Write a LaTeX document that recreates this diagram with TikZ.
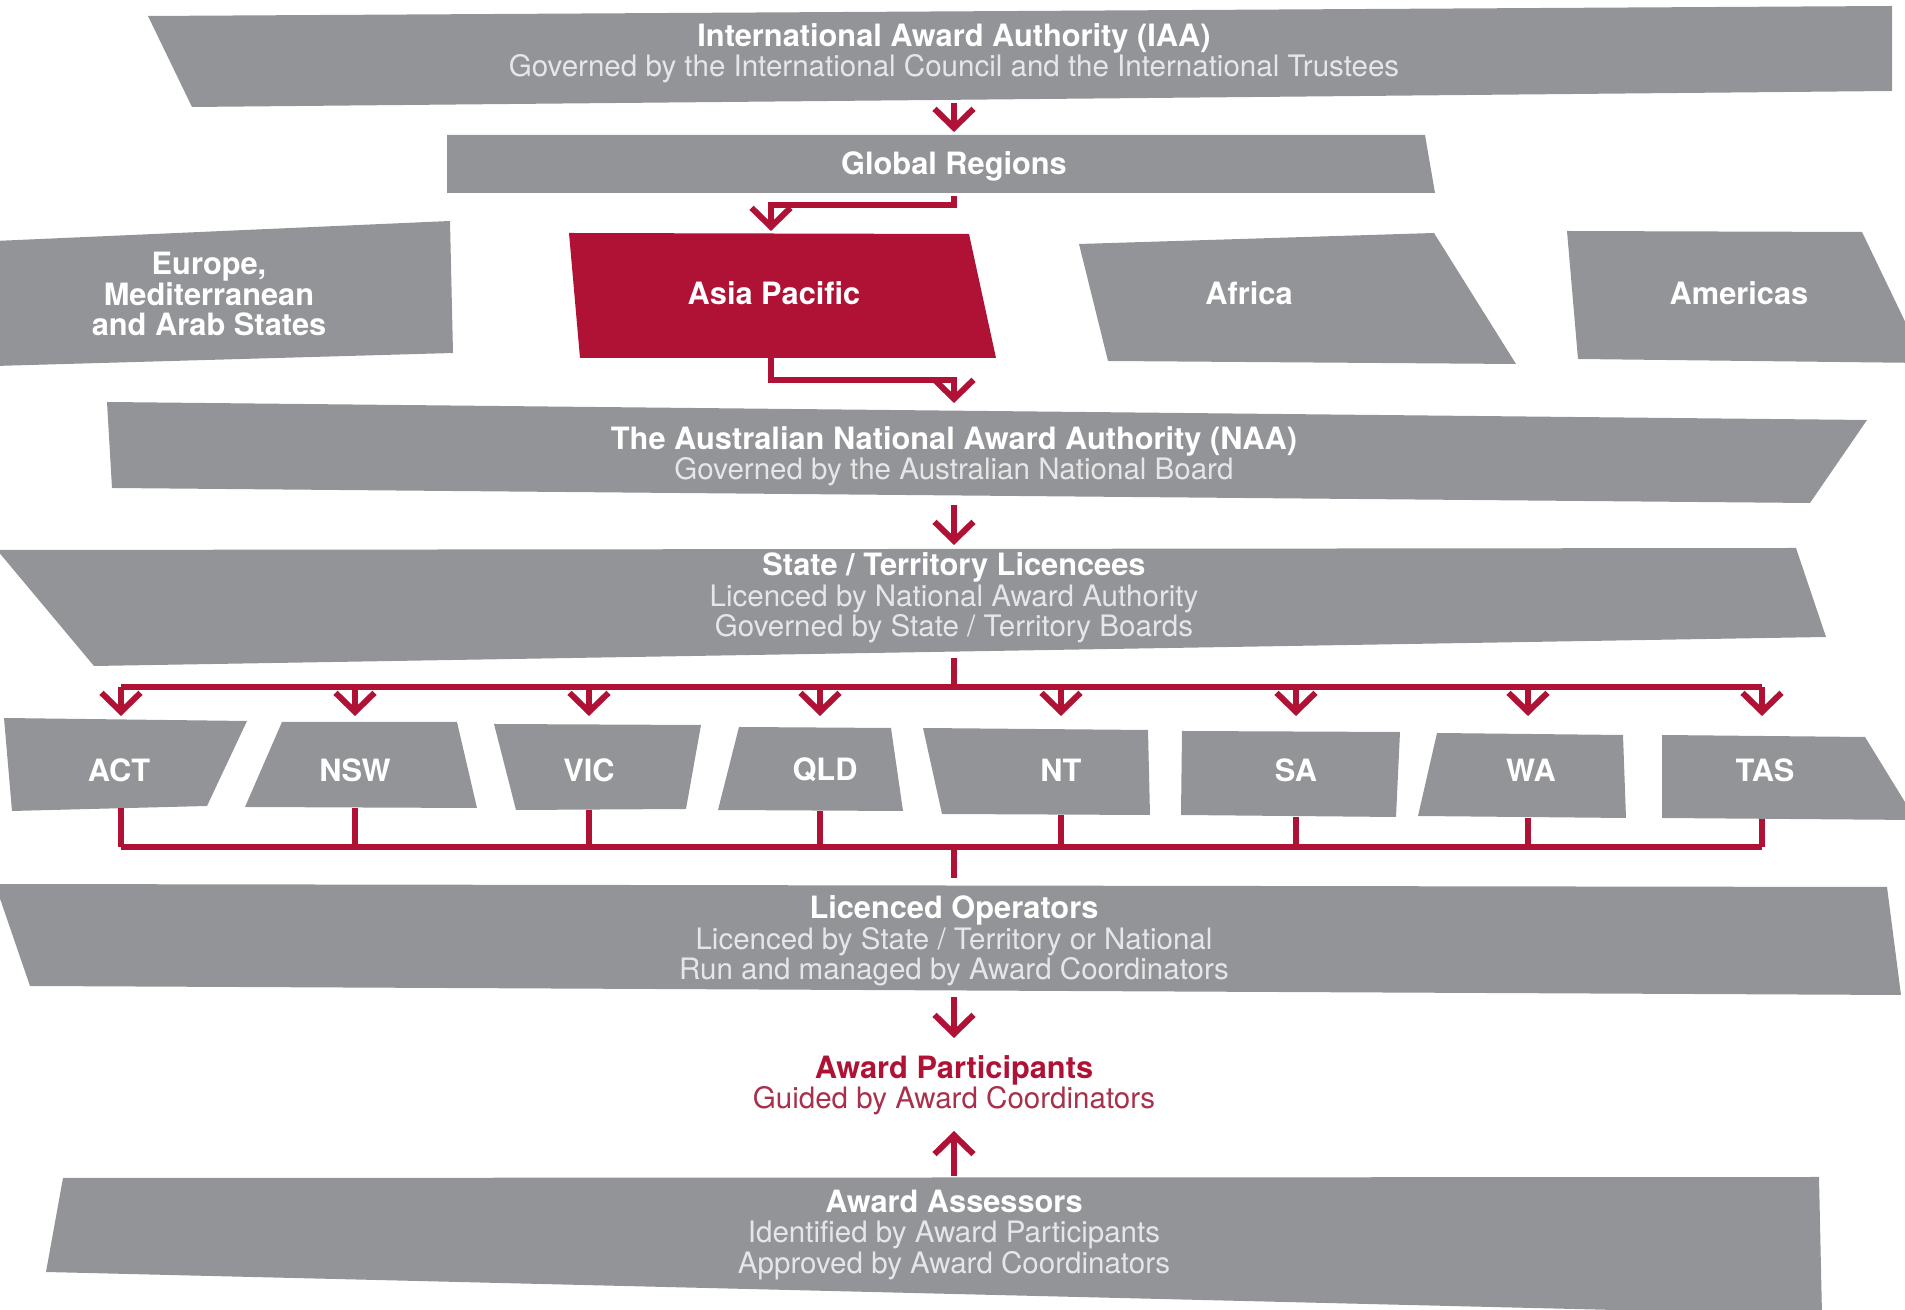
\documentclass[tikz,border=0pt]{standalone}
\usepackage{fontspec}
\setmainfont{TeX Gyre Heros}
\usetikzlibrary{arrows.meta}
\definecolor{boxgray}{HTML}{939497}
\definecolor{awred}{HTML}{B01236}
\definecolor{sublight}{HTML}{E6E6E8}
\definecolor{subred}{HTML}{A8304C}
\tikzset{
  gbox/.style={fill=boxgray},
  rbox/.style={fill=awred},
  lbl/.style={align=center, text=white, inner sep=0pt, font=\fontsize{8.4}{8.6}\selectfont},
  conn/.style={draw=awred, line width=1.7pt, line cap=butt},
  arr/.style={conn, -{Straight Barb[length=1.9mm,width=3.9mm]}},
}
\newcommand{\ttl}[1]{{\fontsize{8.75}{8.6}\selectfont\bfseries #1}}
\newcommand{\sbt}[1]{{\color{sublight}#1}}
\begin{document}
\begin{tikzpicture}[x=0.01cm,y=-0.01cm]
\useasboundingbox (0,0) rectangle (1905,1310);
\begin{scope}
\clip (0,0) rectangle (1905,1310);
% shapes
\fill[gbox] (148,16) -- (1892,6) -- (1892,91) -- (192,107) -- cycle;
\fill[gbox] (447,135) -- (1425,135) -- (1435,193) -- (447,193) -- cycle;
\fill[gbox] (-5,241) -- (450,221) -- (453,353) -- (-5,366) -- cycle;
\fill[rbox] (569,233) -- (969,234) -- (996,358) -- (580,358) -- cycle;
\fill[gbox] (1079,244) -- (1434,233) -- (1516,364) -- (1108,361) -- cycle;
\fill[gbox] (1567,231) -- (1862,232) -- (1925,363) -- (1578,359) -- cycle;
\fill[gbox] (107,402) -- (1867,420) -- (1810,503) -- (112,488) -- cycle;
\fill[gbox] (-3,550) -- (1796,548) -- (1826,637) -- (94,666) -- cycle;
\fill[gbox] (4,718) -- (247,721) -- (207,806) -- (12,811) -- cycle;
\fill[gbox] (282,722) -- (457,722) -- (477,808) -- (245,807) -- cycle;
\fill[gbox] (494,724) -- (701,725) -- (686,809) -- (516,810) -- cycle;
\fill[gbox] (739,727) -- (891,728) -- (903,811) -- (718,810) -- cycle;
\fill[gbox] (923,728) -- (1148,730) -- (1150,815) -- (942,814) -- cycle;
\fill[gbox] (1182,731) -- (1400,732) -- (1396,817) -- (1181,815) -- cycle;
\fill[gbox] (1437,733) -- (1623,735) -- (1626,818) -- (1418,816) -- cycle;
\fill[gbox] (1662,735) -- (1865,737) -- (1916,820) -- (1662,818) -- cycle;
\fill[gbox] (-5,884) -- (1887,887) -- (1901,995) -- (30,986) -- cycle;
\fill[gbox] (63,1178) -- (1819,1177) -- (1822,1315) -- (46,1272) -- cycle;
\end{scope}
% labels
\node[lbl] (iaa) at (954,53) {\ttl{International Award Authority (IAA)}\\\sbt{Governed by the International Council and the International Trustees}};
\node[lbl] (gr) at (954,166) {\ttl{Global Regions}};
\node[lbl] (eu) at (209,294) {\ttl{Europe,}\\\ttl{Mediterranean}\\\ttl{and Arab States}};
\node[lbl] (ap) at (774,293) {\ttl{Asia Pacific}};
\node[lbl] (af) at (1249,293) {\ttl{Africa}};
\node[lbl] (am) at (1739,293) {\ttl{Americas}};
\node[lbl] (naa) at (954,456) {\ttl{The Australian National Award Authority (NAA)}\\\sbt{Governed by the Australian National Board}};
\node[lbl] (stl) at (954,598) {\ttl{State / Territory Licencees}\\\sbt{Licenced by National Award Authority}\\\sbt{Governed by State / Territory Boards}};
\foreach \nm/\x in {ACT/119,NSW/355,VIC/589,QLD/825,NT/1061,SA/1296,WA/1531,TAS/1765}{
  \node[lbl] (s\nm) at (\x,770) {\ttl{\nm}};
}
\node[lbl] (lo) at (954,941) {\ttl{Licenced Operators}\\\sbt{Licenced by State / Territory or National}\\\sbt{Run and managed by Award Coordinators}};
\node[lbl, text=awred] (part) at (954,1085) {\ttl{Award Participants}\\{\color{subred}Guided by Award Coordinators}};
\node[lbl] (ass) at (954,1235) {\ttl{Award Assessors}\\\sbt{Identified by Award Participants}\\\sbt{Approved by Award Coordinators}};
% connector coordinates
\coordinate (iaaB) at (954,103);
\coordinate (grT) at (954,132);
\coordinate (grB) at (954,196);
\coordinate (apT) at (771,231);
\coordinate (apB) at (771,358);
\coordinate (naaT) at (954,403);
\coordinate (naaB) at (954,505);
\coordinate (stlT) at (954,545);
\coordinate (stlB) at (954,658);
\coordinate (busA) at (954,687);
\coordinate (busB) at (954,847);
\coordinate (loT) at (954,878);
\coordinate (loB) at (954,997);
\coordinate (partT) at (954,1038);
\coordinate (partB) at (954,1131);
\coordinate (assT) at (954,1176);
% connectors
\draw[arr] (iaaB) -- (grT);
\draw[arr] (grB) -- ++(0,9) -| (apT);
\draw[arr] (apB) -- ++(0,22) -| (naaT);
\draw[arr] (naaB) -- (stlT);
\draw[conn] (stlB) -- (busA);
\draw[conn] (121,687) -- (1762,687);
\draw[conn] (121,847) -- (1762,847);
\foreach \nm/\x/\b in {ACT/121/808,NSW/355/808,VIC/589/810,QLD/820/811,NT/1061/815,SA/1296/817,WA/1528/818,TAS/1762/819}{
  \draw[arr] (\x,687) -- (\x,716);
  \draw[conn] (\x,\b) -- (\x,847);
}
\draw[conn] (busB) -- (loT);
\draw[arr] (loB) -- (partT);
\draw[arr] (assT) -- (partB);
\end{tikzpicture}
\end{document}
